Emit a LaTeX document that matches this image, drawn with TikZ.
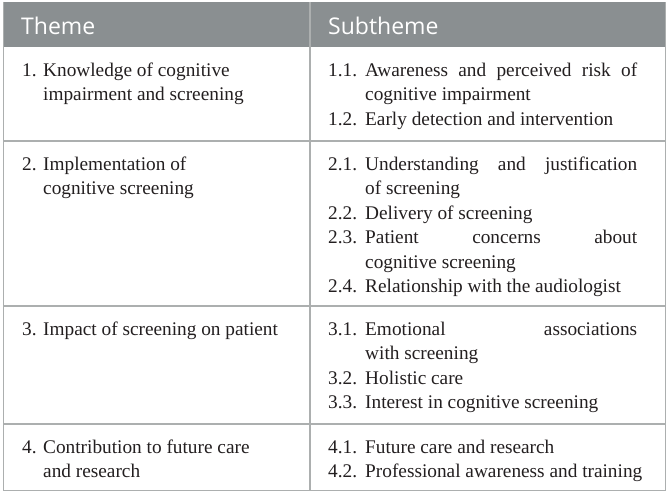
\documentclass[tikz,border=0pt]{standalone}
\usepackage{fontspec}
\setmainfont{Liberation Serif}
\newfontfamily\headfont{Open Sans}
\definecolor{headgray}{RGB}{138,143,145}
\definecolor{rulegray}{RGB}{172,175,175}
\definecolor{inkc}{RGB}{35,31,32}
\newcommand{\bodyfnt}{\fontsize{19.3}{24.5}\selectfont}
\newcommand{\jl}[1]{\hbox to 272pt{#1}}
\begin{document}
\begin{tikzpicture}[x=1pt,y=-1pt,
  txt/.style={anchor=base west, inner sep=0pt, font=\bodyfnt, text=inkc},
  hd/.style={anchor=base west, inner sep=0pt, font=\headfont\fontsize{23}{28}\selectfont, text=white},
  rule/.style={draw=rulegray, line width=1.5pt}]
\useasboundingbox (0,0) rectangle (670,494);
\fill[white] (0,0) rectangle (670,494);
% header
\fill[headgray] (3,2) rectangle (666,47);
\draw[rule] (310,2) -- (310,490.5);
\draw[rule] (3.5,2) -- (3.5,490.5) -- (665.5,490.5) -- (665.5,2);
\draw[rule] (3,141) -- (666,141);
\draw[rule] (3,306) -- (666,306);
\draw[rule] (3,424) -- (666,424);
\node[hd] (h1) at (21,35) {Theme};
\node[hd] (h2) at (328,35) {Subtheme};
% row 1
\node[txt] (n1) at (22,76.5) {1.};
\node[txt] (t1a) at (43,76.5) {Knowledge of cognitive};
\node[txt] (t1b) at (43,101) {impairment and screening};
\node[txt] (n11) at (328,76.5) {1.1.};
\node[txt] (s11a) at (365,76.5) {\jl{Awareness\hfill and\hfill perceived\hfill risk\hfill of}};
\node[txt] (s11b) at (365,101) {cognitive impairment};
\node[txt] (n12) at (328,125.5) {1.2.};
\node[txt] (s12) at (365,125.5) {Early detection and intervention};
% row 2
\node[txt] (n2) at (22,170.5) {2.};
\node[txt] (t2a) at (43,170.5) {Implementation of};
\node[txt] (t2b) at (43,195) {cognitive screening};
\node[txt] (n21) at (328,170.5) {2.1.};
\node[txt] (s21a) at (365,170.5) {\jl{Understanding\hfill and\hfill justification}};
\node[txt] (s21b) at (365,195) {of screening};
\node[txt] (n22) at (328,219.5) {2.2.};
\node[txt] (s22) at (365,219.5) {Delivery of screening};
\node[txt] (n23) at (328,244) {2.3.};
\node[txt] (s23a) at (365,244) {\jl{Patient\hfill concerns\hfill about}};
\node[txt] (s23b) at (365,268.5) {cognitive screening};
\node[txt] (n24) at (328,293) {2.4.};
\node[txt] (s24) at (365,293) {Relationship with the audiologist};
% row 3
\node[txt] (n3) at (22,335.5) {3.};
\node[txt] (t3a) at (43,335.5) {Impact of screening on patient};
\node[txt] (n31) at (328,335.5) {3.1.};
\node[txt] (s31a) at (365,335.5) {\jl{Emotional\hfill associations}};
\node[txt] (s31b) at (365,360) {with screening};
\node[txt] (n32) at (328,384.5) {3.2.};
\node[txt] (s32) at (365,384.5) {Holistic care};
\node[txt] (n33) at (328,409) {3.3.};
\node[txt] (s33) at (365,409) {Interest in cognitive screening};
% row 4
\node[txt] (n4) at (22,453.5) {4.};
\node[txt] (t4a) at (43,453.5) {Contribution to future care};
\node[txt] (t4b) at (43,478) {and research};
\node[txt] (n41) at (328,453.5) {4.1.};
\node[txt] (s41) at (365,453.5) {Future care and research};
\node[txt] (n42) at (328,478) {4.2.};
\node[txt] (s42) at (365,478) {Professional awareness and training};
\end{tikzpicture}
\end{document}
